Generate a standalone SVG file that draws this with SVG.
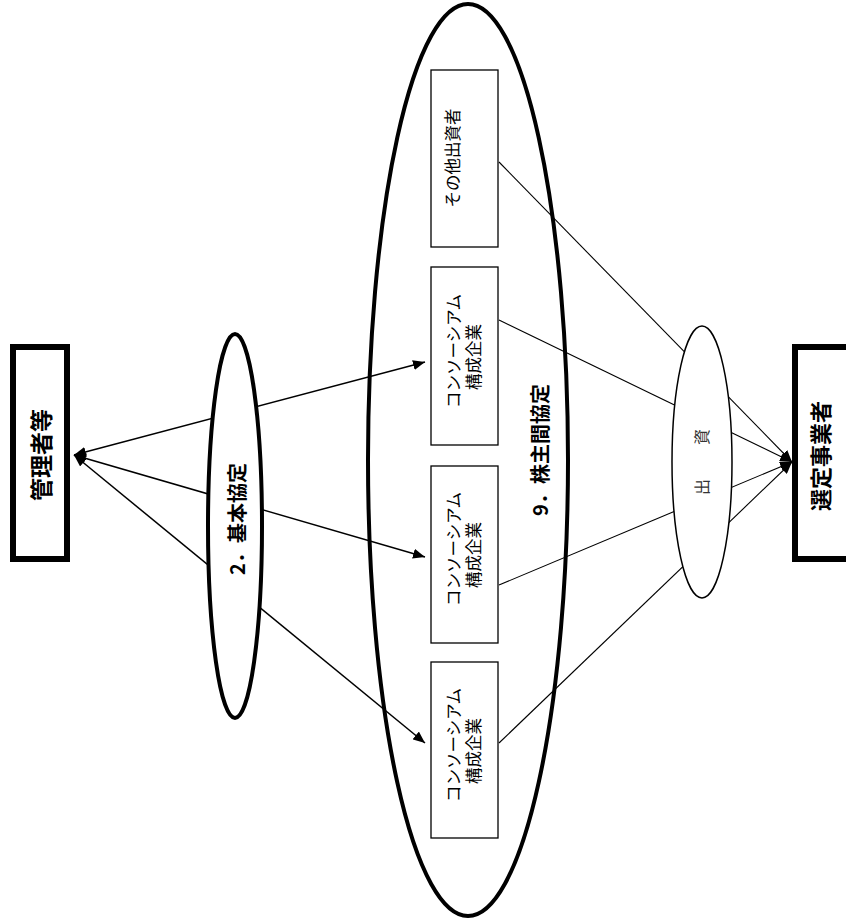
<svg xmlns="http://www.w3.org/2000/svg" width="846" height="924" viewBox="0 0 846 924">
<style>
text{font-family:"Noto Sans CJK JP","Noto Sans CJK SC",sans-serif;text-anchor:middle;dominant-baseline:central;fill:#000}
.b{font-weight:bold}
.t{font-size:16.5px}
.box{fill:#fff;stroke:#000;stroke-width:1.3}
.party{fill:#fff;stroke:#000;stroke-width:6}
.ag{stroke:#000;stroke-width:1.5;fill:none}
.inv{stroke:#000;stroke-width:1.1;fill:none}
</style>
<defs>
<marker id="ah" viewBox="0 0 12 10" refX="12" refY="5" markerWidth="12" markerHeight="10" markerUnits="userSpaceOnUse" orient="auto-start-reverse">
<path d="M0,0 L12,5 L0,10 z" fill="#000"/>
</marker>
</defs>

<g id="shareholders-agreement">
<ellipse cx="468" cy="460" rx="100" ry="456" fill="#fff" stroke="#000" stroke-width="4"/>
<text class="b" font-size="20" transform="rotate(-90 539 450)" x="539" y="450">9．株主間協定</text>
</g>

<g id="connectors">
<line class="ag" x1="74" y1="455" x2="425" y2="362" marker-start="url(#ah)" marker-end="url(#ah)"/>
<line class="ag" x1="74" y1="455" x2="425" y2="557" marker-start="url(#ah)" marker-end="url(#ah)"/>
<line class="ag" x1="74" y1="455" x2="425" y2="743" marker-start="url(#ah)" marker-end="url(#ah)"/>
<line class="inv" x1="499" y1="162" x2="792" y2="462" marker-end="url(#ah)"/>
<line class="inv" x1="499" y1="320" x2="792" y2="462" marker-end="url(#ah)"/>
<line class="inv" x1="499" y1="585" x2="792" y2="462" marker-end="url(#ah)"/>
<line class="inv" x1="499" y1="743" x2="792" y2="462" marker-end="url(#ah)"/>
</g>

<g id="manager">
<rect class="party" x="13" y="347" width="54" height="212"/>
<text class="b" font-size="23" transform="rotate(-90 40 455)" x="40" y="455">管理者等</text>
</g>

<g id="selected-operator">
<rect class="party" x="795" y="347" width="54" height="212"/>
<text class="b" font-size="22" transform="rotate(-90 819 456)" x="819" y="456">選定事業者</text>
</g>

<g id="basic-agreement">
<ellipse cx="235" cy="526" rx="27" ry="192" fill="#fff" stroke="#000" stroke-width="4"/>
<text class="b" font-size="20" transform="rotate(-90 236 519)" x="236" y="519">2．基本協定</text>
</g>

<g id="other-investors">
<rect class="box" x="431" y="70" width="67" height="177"/>
<text class="t" transform="rotate(-90 452 158)" x="452" y="158">その他出資者</text>
</g>

<g id="consortium-1">
<rect class="box" x="431" y="267" width="67" height="178"/>
<text class="t" transform="rotate(-90 453 351)" x="453" y="351">コンソーシアム</text>
<text class="t" transform="rotate(-90 473 357)" x="473" y="357">構成企業</text>
</g>

<g id="consortium-2">
<rect class="box" x="431" y="466" width="67" height="177"/>
<text class="t" transform="rotate(-90 453 549)" x="453" y="549">コンソーシアム</text>
<text class="t" transform="rotate(-90 473 555)" x="473" y="555">構成企業</text>
</g>

<g id="consortium-3">
<rect class="box" x="431" y="662" width="67" height="176"/>
<text class="t" transform="rotate(-90 453 745)" x="453" y="745">コンソーシアム</text>
<text class="t" transform="rotate(-90 473 751)" x="473" y="751">構成企業</text>
</g>

<g id="investment">
<ellipse cx="702" cy="462" rx="30" ry="136" fill="#fff" stroke="#000" stroke-width="1.5"/>
<text font-size="16" style="fill:#333" transform="rotate(-90 701 462)" x="701" y="462" letter-spacing="9" dx="4.5">出　資</text>
</g>
</svg>
